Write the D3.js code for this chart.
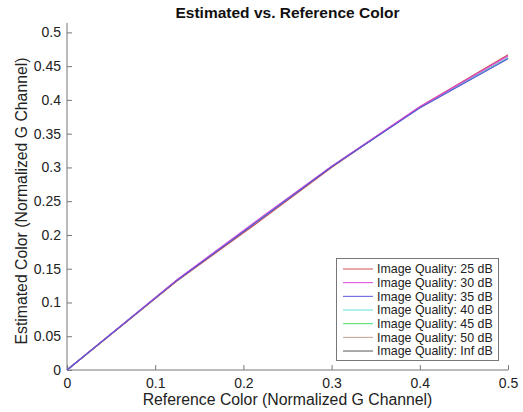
<!DOCTYPE html>
<html><head><meta charset="utf-8">
<script src="https://cdn.jsdelivr.net/npm/d3@7"></script>
<style>body{margin:0;background:#fff;}svg{display:block;font-family:"Liberation Sans",Arial,sans-serif;}</style>
</head><body>
<svg id="c" width="523" height="412"></svg>
<script>
const refX = [0, 0.125, 0.22, 0.3, 0.4, 0.5];
const labels = ["Image Quality: 25 dB","Image Quality: 30 dB","Image Quality: 35 dB","Image Quality: 40 dB","Image Quality: 45 dB","Image Quality: 50 dB","Image Quality: Inf dB"];
const q25  = [0, 0.132, 0.222, 0.300, 0.390, 0.467];
const q30  = [0, 0.134, 0.226, 0.302, 0.390, 0.465];
const q35  = [0, 0.133, 0.224, 0.301, 0.388, 0.461];
const q40  = [0, 0.133, 0.224, 0.301, 0.389, 0.462];
const q45  = [0, 0.133, 0.224, 0.301, 0.389, 0.462];
const q50  = [0, 0.133, 0.224, 0.301, 0.389, 0.462];
const qInf = [0, 0.133, 0.224, 0.301, 0.389, 0.462];
const colors = ["#cc5050","#dd44dd","#5858d8","#66dddd","#44dd66","#c0a090","#555555"];
const xTicks = [0,0.1,0.2,0.3,0.4,0.5];
const xTickLabels = ["0","0.1","0.2","0.3","0.4","0.5"];
const yTicks = [0,0.05,0.1,0.15,0.2,0.25,0.3,0.35,0.4,0.45,0.5];
const yTickLabels = ["0","0.05","0.1","0.15","0.2","0.25","0.3","0.35","0.4","0.45","0.5"];
const series = [q25,q30,q35,q40,q45,q50,qInf];

const svg = d3.select("#c");
const L=67, R=508, B=370, T=23;
const x = d3.scaleLinear().domain([0,0.5]).range([L,R]);
const y = d3.scaleLinear().domain([0,0.5]).range([B,32.4]);
const axisCol = "#777";

// axes
const xa = svg.append("g").attr("transform",`translate(0,${B})`)
  .call(d3.axisBottom(x).tickValues(xTicks).tickSize(-5).tickPadding(8).tickFormat((d,i)=>xTickLabels[i]));
const ya = svg.append("g").attr("transform",`translate(${L},0)`)
  .call(d3.axisLeft(y).tickValues(yTicks).tickSize(-5).tickPadding(6).tickFormat((d,i)=>yTickLabels[i]));
[xa,ya].forEach(g=>{
  g.select(".domain").remove();
  g.selectAll(".tick line").attr("stroke",axisCol);
  g.selectAll(".tick text").attr("fill","#222").style("font-size","14px").style("font-family","Liberation Sans, Arial, sans-serif");
});
svg.append("line").attr("x1",L).attr("x2",R).attr("y1",B).attr("y2",B).attr("stroke",axisCol);
svg.append("line").attr("x1",L).attr("x2",L).attr("y1",T).attr("y2",B).attr("stroke",axisCol);

// lines
const line = d3.line().x((d,i)=>x(refX[i])).y(d=>y(d));
const order = [6,5,4,3,0,1,2];
order.forEach(k=>{
  svg.append("path").datum(series[k]).attr("d",line).attr("fill","none")
    .attr("stroke",colors[k]).attr("stroke-width",1.1);
});

// title & labels
svg.append("text").attr("x",(L+R)/2).attr("y",18).attr("text-anchor","middle")
  .style("font-weight","bold").style("font-size","15.5px").attr("fill","#111").text("Estimated vs. Reference Color");
svg.append("text").attr("x",(L+R)/2).attr("y",405).attr("text-anchor","middle")
  .style("font-size","15.8px").attr("fill","#222").text("Reference Color (Normalized G Channel)");
svg.append("text").attr("transform",`translate(27,${(B+32)/2}) rotate(-90)`).attr("text-anchor","middle")
  .style("font-size","15.8px").attr("fill","#222").text("Estimated Color (Normalized G Channel)");

// legend
const lg = svg.append("g");
lg.append("rect").attr("x",336.5).attr("y",258.5).attr("width",162).attr("height",102)
  .attr("fill","#fff").attr("stroke",axisCol);
labels.forEach((t,i)=>{
  const cy = 269 + i*13.67;
  lg.append("line").attr("x1",343).attr("x2",373).attr("y1",cy).attr("y2",cy).attr("stroke",colors[i]).attr("stroke-width",1);
  lg.append("text").attr("x",377).attr("y",cy+4.3).style("font-size","12.4px").attr("fill","#222").text(t);
});
</script>
</body></html>
